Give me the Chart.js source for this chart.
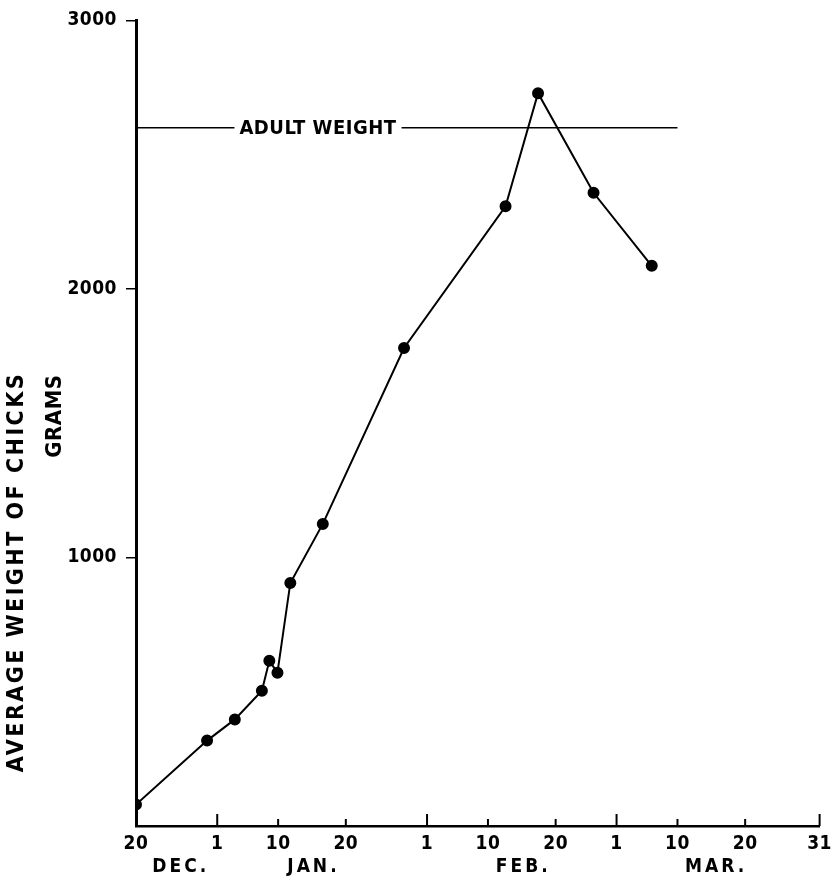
<!DOCTYPE html>
<html>
<head>
<meta charset="utf-8">
<script src="https://cdn.jsdelivr.net/npm/chart.js@4/dist/chart.umd.min.js"></script>
<style>
  body { margin: 0; background: #fff; }
  #wrap { width: 839px; height: 880px; }
</style>
</head>
<body>
<div id="wrap"><canvas id="myChart"></canvas></div>
<script>
// days counted from 20 Dec (day 0) to 31 Mar (day 101)
var sampleDays = [0, 10.5, 14.6, 18.6, 19.7, 20.9, 22.8, 27.6, 39.6, 54.6, 59.4, 67.6, 76.2];
var chickWeights = [80, 318, 397, 504, 615, 571, 905, 1125, 1780, 2308, 2729, 2358, 2086];

var adultWeight = 2600;
var adultLineDays = [0, 80];

var dayTicks = [0, 12, 21, 31, 43, 52, 62, 71, 80, 90, 101];
var dayLabels = ['20', '1', '10', '20', '1', '10', '20', '1', '10', '20', '31'];

var monthDays = [6.4, 26, 57, 85.5];
var monthLabels = ['DEC.', 'JAN.', 'FEB.', 'MAR.'];

var weightTicks = [1000, 2000, 3000];

var lettering = "'DejaVu Sans Condensed', 'DejaVu Sans', sans-serif";

//letter spacing for the stencil look, canvas state gets reset on resize so set it every time
var spacingPlugin = {
    id: 'spacing',
    beforeUpdate: function(chart) { chart.ctx.letterSpacing = '0.5px'; },
    beforeDraw: function(chart) { chart.ctx.letterSpacing = '0.5px'; }
};

var extrasPlugin = {
    id: 'extras',
    afterDraw: function(chart) {
        var ctx = chart.ctx;
        var area = chart.chartArea;
        var x = chart.scales.x;
        var y = chart.scales.y;
        var m = chart.scales.months;
        ctx.save();

        // x ticks point up into the plot
        ctx.strokeStyle = '#000';
        ctx.lineWidth = 2;
        x.ticks.forEach(function(t, i) {
            var px = x.getPixelForValue(t.value);
            var tall = dayLabels[i] == '1' || dayLabels[i] == '31';
            ctx.beginPath();
            ctx.moveTo(px, area.bottom);
            ctx.lineTo(px, area.bottom - (tall ? 12 : 7));
            ctx.stroke();
        });

        ctx.fillStyle = '#000';
        ctx.textAlign = 'center';
        ctx.textBaseline = 'middle';

        // month names under the day numbers, wider spaced than the numbers
        ctx.font = 'bold 19px ' + lettering;
        ctx.letterSpacing = '3px';
        m.ticks.forEach(function(t, i) {
            ctx.fillText(monthLabels[i], m.getPixelForValue(t.value) + 1.5, m.top + 13);
        });

        // adult weight label sitting in a gap of its line
        ctx.font = 'bold 20px ' + lettering;
        ctx.letterSpacing = '0.5px';
        var ly = y.getPixelForValue(adultWeight);
        var lx = area.left + 182;
        var w = ctx.measureText('ADULT WEIGHT').width;
        ctx.fillStyle = '#fff';
        ctx.fillRect(lx - w / 2 - 5, ly - 10, w + 10, 20);
        ctx.fillStyle = '#000';
        ctx.fillText('ADULT WEIGHT', lx, ly + 1);

        // axis titles
        ctx.font = 'bold 23px ' + lettering;
        ctx.letterSpacing = '2.5px';
        ctx.save();
        ctx.translate(17, 572);
        ctx.rotate(-Math.PI / 2);
        ctx.fillText('AVERAGE WEIGHT OF CHICKS', 0, 0);
        ctx.restore();

        ctx.font = 'bold 22px ' + lettering;
        ctx.letterSpacing = '0.5px';
        ctx.translate(55, 416);
        ctx.rotate(-Math.PI / 2);
        ctx.fillText('GRAMS', 0, 0);
        ctx.restore();
    }
};

var points = sampleDays.map(function(d, i) { return { x: d, y: chickWeights[i] }; });
var adultLine = adultLineDays.map(function(d) { return { x: d, y: adultWeight }; });

var config = {
    type: 'line',
    data: {
        datasets: [{
            label: 'Adult weight',
            data: adultLine,
            borderColor: '#000',
            borderWidth: 1.5,
            pointRadius: 0
        }, {
            label: 'Average weight of chicks',
            data: points,
            borderColor: '#000',
            backgroundColor: '#000',
            borderWidth: 2,
            pointRadius: 5,
            pointBackgroundColor: '#000',
            tension: 0
        }]
    },
    options: {
        responsive: false,
        animation: false,
        layout: { padding: { left: 0, top: 16, right: 11, bottom: 0 } },
        plugins: {
            legend: { display: false },
            title: { display: false },
            tooltip: { enabled: false }
        },
        scales: {
            x: {
                type: 'linear',
                position: 'bottom',
                weight: 0,
                min: 0,
                max: 101,
                afterBuildTicks: function(scale) {
                    scale.ticks = dayTicks.map(function(v) { return { value: v }; });
                },
                afterFit: function(scale) { scale.height = 28; },
                ticks: {
                    autoSkip: false,
                    maxRotation: 0,
                    padding: 7,
                    color: '#000',
                    font: { family: lettering, size: 19, weight: 'bold' },
                    callback: function(v, i) { return dayLabels[i]; }
                },
                grid: { display: false, drawTicks: false },
                border: { display: true, color: '#000', width: 2.5 }
            },
            months: {
                type: 'linear',
                position: 'bottom',
                weight: 1,
                min: 0,
                max: 101,
                afterBuildTicks: function(scale) {
                    scale.ticks = monthDays.map(function(v) { return { value: v }; });
                },
                afterFit: function(scale) { scale.height = 26; },
                ticks: { display: false },
                grid: { display: false, drawTicks: false },
                border: { display: false }
            },
            y: {
                type: 'linear',
                min: 0,
                max: 3000,
                afterBuildTicks: function(scale) {
                    scale.ticks = weightTicks.map(function(v) { return { value: v }; });
                },
                afterFit: function(scale) { scale.width = 136; },
                ticks: {
                    padding: 9,
                    color: '#000',
                    font: { family: lettering, size: 19, weight: 'bold' },
                    callback: function(v) { return String(v); }
                },
                grid: {
                    drawOnChartArea: false,
                    drawTicks: true,
                    tickLength: 10,
                    color: '#000',
                    lineWidth: 1.5
                },
                border: { display: true, color: '#000', width: 3 }
            }
        }
    },
    plugins: [spacingPlugin, extrasPlugin]
};

var canvas = document.getElementById('myChart');
canvas.width = 839;
canvas.height = 880;
window.myLine = new Chart(canvas.getContext('2d'), config);
</script>
</body>
</html>
